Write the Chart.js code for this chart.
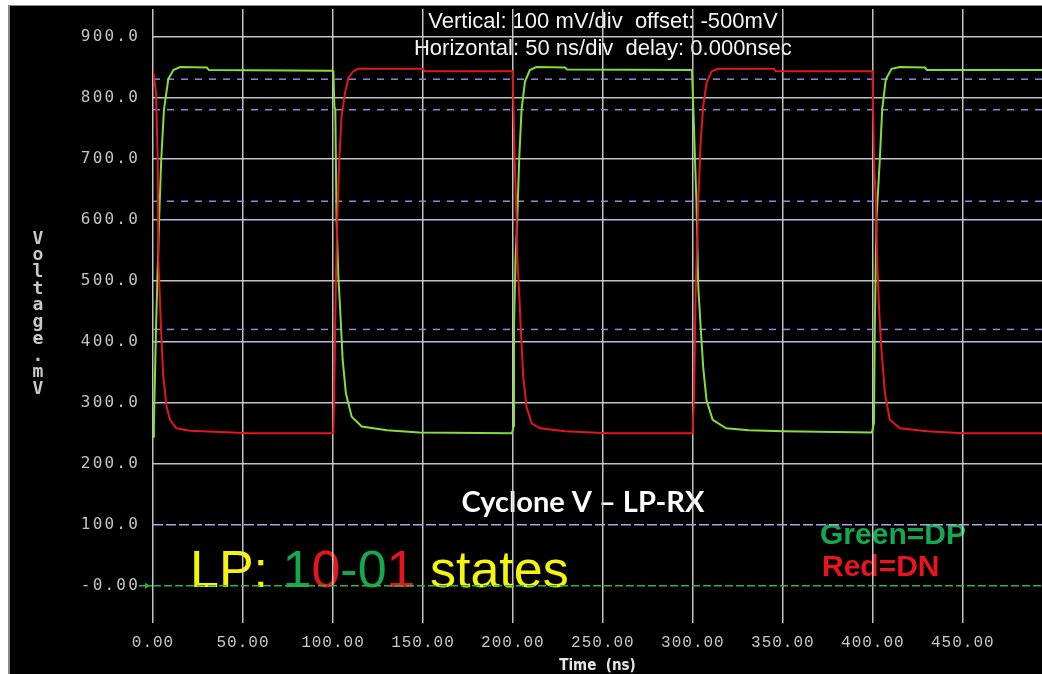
<!DOCTYPE html>
<html>
<head>
<meta charset="utf-8">
<script src="https://cdn.jsdelivr.net/npm/chart.js@4/dist/chart.umd.min.js"></script>
<style>
  html, body { margin: 0; padding: 0; background: #fff; overflow: hidden; }
  #wrap { width: 1042px; height: 674px; position: relative; }
</style>
</head>
<body>
<div id="wrap"><canvas id="scope" width="1042" height="674"></canvas></div>
<script>
// DP (green) capture: time in ns, level in mV
const dpTime = [0, 0.5, 1.7, 3.4, 4.6, 6.1, 8.5, 11.3, 15, 30, 31, 99.5, 100.2,
  100.8, 101.3, 102, 103, 104.3, 105.4, 107.2, 110.4, 116, 130, 148, 199.5,
  200.4, 200.6, 201.5, 202.4, 203.5, 204.8, 206.7, 209.4, 213, 229, 230, 299.5,
  300.5, 302, 303, 304.3, 305.7, 307.6, 311, 318.5, 331, 350, 399.5,
  400.6, 401.1, 402, 403.9, 405.2, 407.2, 410.4, 415, 429, 430, 494];
const dpMv = [244, 262, 425, 600, 700, 780, 830, 845, 850, 849, 845, 844, 843,
  785, 780, 600, 507, 436, 370, 315, 277, 261, 255, 251, 250,
  262, 425, 539, 600, 700, 780, 826, 845, 850, 849, 846, 845,
  760, 627, 490, 425, 359, 304, 272, 258, 255, 253, 251,
  266, 425, 600, 700, 780, 830, 847, 850, 849, 845, 845];

// DN (red) capture
const dnTime = [0, 1.7, 2.6, 3.0, 4.4, 5.7, 7.6, 9.4, 13, 20.5, 54, 99.5,
  100.2, 100.7, 101.5, 102.4, 103.5, 104.8, 106.7, 108.5, 111.3, 114, 150, 151, 199.8,
  201, 202, 202.4, 203.5, 204.3, 205.7, 207.6, 210.4, 215, 229, 253, 299.8,
  300.7, 301.5, 303, 304.3, 305.7, 307.6, 310.4, 314, 345, 346, 399.8,
  400.6, 401.7, 402.4, 403.5, 404.8, 406.7, 409.4, 415, 430, 450, 494];
const dnMv = [845, 807, 698, 534, 425, 343, 293, 272, 258, 254, 250, 250,
  250, 316, 479, 600, 698, 769, 807, 832, 843, 847, 847, 843, 843,
  698, 600, 539, 479, 425, 343, 293, 266, 258, 253, 250, 250,
  316, 479, 632, 725, 785, 824, 843, 847, 847, 843, 843,
  698, 627, 534, 452, 386, 316, 272, 258, 253, 250, 250];

// Threshold markers and reference levels (mV)
const thresholdMv = [830, 780, 630, 420];
const referenceMv = [100];
const groundMv = [0];

// Axis ticks and visible window
const timeTicks = [0, 50, 100, 150, 200, 250, 300, 350, 400, 450];
const voltTicks = [0, 100, 200, 300, 400, 500, 600, 700, 800, 900];
const timeWindow = [0, 494];
const voltWindow = [-61, 945];
const blueGridMv = [600, 400];

const toPoints = (xs, ys) => xs.map((x, i) => ({ x, y: ys[i] }));
const levelLine = (v) => [{ x: timeWindow[0], y: v }, { x: timeWindow[1], y: v }];

const datasets = [
  { label: 'DN', data: toPoints(dnTime, dnMv), borderColor: '#e3161c', borderWidth: 2, order: 0 },
  { label: 'DP', data: toPoints(dpTime, dpMv), borderColor: '#86dc38', borderWidth: 2, order: 1 }
];
thresholdMv.forEach(v => datasets.push({ label: 'thr' + v, data: levelLine(v), borderColor: '#8a8ae0', borderWidth: 1.5, borderDash: [7, 7], order: 5 }));
referenceMv.forEach(v => datasets.push({ label: 'ref' + v, data: levelLine(v), borderColor: '#a6a6ea', borderWidth: 1.5, borderDash: [10, 3], order: 5 }));
groundMv.forEach(v => datasets.push({ label: 'gnd' + v, data: levelLine(v), borderColor: '#2fb43c', borderWidth: 1.5, borderDash: [8, 3], order: 5 }));

// Scope frame, annotations and stacked axis title
const scopeFrame = {
  id: 'scopeFrame',
  beforeDraw(chart) {
    const ctx = chart.ctx;
    const W = chart.width, H = chart.height;
    ctx.save();
    ctx.letterSpacing = '0px';
    ctx.fillStyle = '#ffffff';
    ctx.fillRect(0, 0, W, H);
    ctx.fillStyle = '#000000';
    ctx.fillRect(10, 6, W - 10, H - 6);
    ctx.fillStyle = '#8a8a8a';
    ctx.fillRect(8, 5, 2, H - 5);
    ctx.fillRect(8, 5, W - 8, 1);

    const ca = chart.chartArea;
    const xs = chart.scales.x, ys = chart.scales.y;

    // header readout
    ctx.fillStyle = '#f4f4f4';
    ctx.textAlign = 'center';
    ctx.textBaseline = 'middle';
    ctx.font = '22px "Liberation Sans", Arial, sans-serif';
    const cx = xs.getPixelForValue(250);
    ctx.fillText('Vertical: 100 mV/div  offset: -500mV', cx, 22);
    ctx.fillText('Horizontal: 50 ns/div  delay: 0.000nsec', cx, 49);

    // device caption
    ctx.font = 'bold 29px Lato, "Open Sans", sans-serif';
    ctx.fillStyle = '#ffffff';
    ctx.fillText('Cyclone V \u2013 LP-RX', 583, 503);

    // colour key
    ctx.textAlign = 'left';
    ctx.font = 'bold 30px "Liberation Sans", Arial, sans-serif';
    ctx.fillStyle = '#14a850';
    ctx.fillText('Green=DP', 820, 536);
    ctx.fillStyle = '#e8141e';
    ctx.fillText('Red=DN', 822, 568);

    // state label with per-character colours
    ctx.font = '52px "Liberation Sans", Arial, sans-serif';
    ctx.textBaseline = 'alphabetic';
    const parts = [['LP: ', '#f5f50a'], ['1', '#14a850'], ['0', '#e8141e'], ['-', '#14a850'],
                   ['0', '#14a850'], ['1', '#e8141e'], [' states', '#f5f50a']];
    let px = 190;
    parts.forEach(([t, c]) => {
      ctx.fillStyle = c;
      ctx.fillText(t, px, 587);
      px += ctx.measureText(t).width;
    });

    // stacked vertical axis title
    ctx.fillStyle = '#c8c8c8';
    ctx.textAlign = 'center';
    ctx.textBaseline = 'middle';
    ctx.font = 'bold 18px "DejaVu Sans Mono", monospace';
    const title = 'Voltage.mV';
    for (let i = 0; i < title.length; i++) {
      ctx.fillText(title[i], 38, 239 + i * 16.7);
    }

    // ground marker arrow
    const gy = ys.getPixelForValue(0);
    ctx.strokeStyle = '#2fb43c';
    ctx.fillStyle = '#2fb43c';
    ctx.lineWidth = 1.5;
    ctx.beginPath();
    ctx.moveTo(139, gy);
    ctx.lineTo(ca.left, gy);
    ctx.stroke();
    ctx.beginPath();
    ctx.moveTo(150, gy);
    ctx.lineTo(145, gy - 3);
    ctx.lineTo(145, gy + 3);
    ctx.closePath();
    ctx.fill();
    ctx.restore();
  }
};

function spacedLabels(scale, spacing) {
  if (scale._spacedWrap) return;
  scale._spacedWrap = true;
  const base = scale.drawLabels;
  scale.drawLabels = function (area) {
    this.ctx.save();
    this.ctx.letterSpacing = spacing;
    base.call(this, area);
    this.ctx.restore();
  };
}

new Chart(document.getElementById('scope'), {
  type: 'line',
  data: { datasets },
  plugins: [scopeFrame],
  options: {
    responsive: false,
    animation: false,
    events: [],
    layout: { padding: { top: 9, right: 0, bottom: 0, left: 0 } },
    elements: { point: { radius: 0 }, line: { tension: 0, fill: false } },
    plugins: { legend: { display: false }, tooltip: { enabled: false } },
    scales: {
      x: {
        type: 'linear',
        min: timeWindow[0],
        max: timeWindow[1],
        afterBuildTicks: (s) => { s.ticks = timeTicks.map(v => ({ value: v })); },
        afterFit: (s) => { s.height = 51; s.paddingRight = 0; s.paddingLeft = 0; spacedLabels(s, '1px'); },
        grid: { color: 'rgba(215,215,215,0.9)', lineWidth: 1.5, drawTicks: false },
        border: { display: false },
        ticks: {
          padding: 10,
          maxRotation: 0,
          autoSkip: false,
          color: '#c8c8c8',
          font: { family: '"Liberation Mono", monospace', size: 16 },
          callback: (v) => Number(v).toFixed(2)
        },
        title: {
          display: true,
          text: 'Time  (ns)',
          color: '#e6e6e6',
          font: { family: '"DejaVu Sans Condensed", "DejaVu Sans"', size: 15, weight: 'bold', lineHeight: 1.1 },
          padding: 0
        }
      },
      y: {
        type: 'linear',
        min: voltWindow[0],
        max: voltWindow[1],
        afterBuildTicks: (s) => { s.ticks = voltTicks.map(v => ({ value: v })); },
        afterFit: (s) => { s.width = 153; s.paddingTop = 0; s.paddingBottom = 0; spacedLabels(s, '2.2px'); },
        grid: {
          drawTicks: false,
          lineWidth: 1.5,
          color: (c) => {
            const v = c.tick && c.tick.value;
            if (v === 0 || v === 100) return 'rgba(0,0,0,0)';
            if (blueGridMv.includes(v)) return '#b9b9ec';
            return 'rgba(215,215,215,0.9)';
          }
        },
        border: { display: false },
        ticks: {
          padding: 13,
          color: '#c4c4c4',
          font: { family: '"DejaVu Sans Mono", monospace', size: 16 },
          callback: (v) => (v === 0 ? '-0.00' : Number(v).toFixed(1))
        }
      }
    }
  }
});
</script>
</body>
</html>
